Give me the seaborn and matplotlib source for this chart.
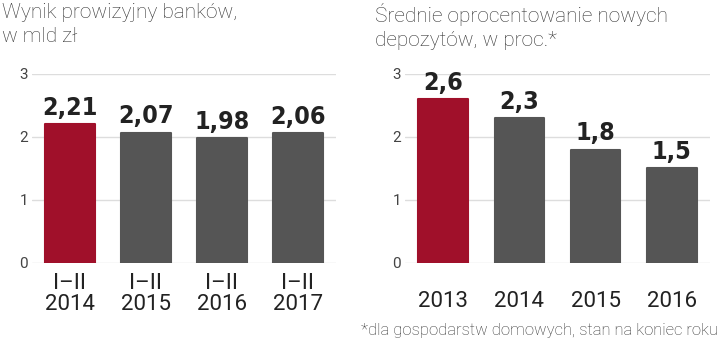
import matplotlib
matplotlib.use("Agg")
import matplotlib.pyplot as plt
import seaborn as sns
import pandas as pd

left_title = "Wynik prowizyjny banków,\nw mld zł"
left_cats = ["I–II\n2014", "I–II\n2015", "I–II\n2016", "I–II\n2017"]
left_vals = [2.21, 2.07, 1.98, 2.06]
left_labels = ["2,21", "2,07", "1,98", "2,06"]

right_title = "Średnie oprocentowanie nowych\ndepozytów, w proc.*"
right_cats = ["2013", "2014", "2015", "2016"]
right_vals = [2.6, 2.3, 1.8, 1.5]
right_labels = ["2,6", "2,3", "1,8", "1,5"]

footnote = "*dla gospodarstw domowych, stan na koniec roku"
yticks = [0, 1, 2, 3]

RED = "#A0102A"
GRAY = "#555555"

sns.set_theme(style="white")
plt.rcParams['font.family'] = ['Roboto', 'DejaVu Sans']

fig = plt.figure(figsize=(7.2, 3.42), dpi=100)

def panel(rect, cats, vals, labels, title, title_x, xpad):
    ax = fig.add_axes(rect)
    df = pd.DataFrame({"cat": cats, "val": vals,
                       "hl": ["a"] + ["b"] * (len(cats) - 1)})
    sns.barplot(data=df, x="cat", y="val", hue="hl", palette={"a": RED, "b": GRAY},
                width=0.65, legend=False, ax=ax, saturation=1, zorder=3)
    for p in ax.patches:
        p.set_edgecolor(p.get_facecolor())
        p.set_linewidth(1.5)
        p.set_joinstyle("round")
    ax.set_xlim(-0.5, 3.5)
    ax.set_ylim(0, 3)
    ax.set_yticks(yticks)
    ax.set_yticklabels([str(t) for t in yticks], fontsize=11, color="#444444")
    ax.grid(axis="y", color="#dddddd", linewidth=1, zorder=0)
    ax.set_axisbelow(True)
    for s in ax.spines.values():
        s.set_visible(False)
    ax.tick_params(axis="y", length=0, pad=3)
    ax.tick_params(axis="x", length=0, pad=xpad, labelsize=16, labelcolor="#222222")
    for lbl in ax.get_xticklabels():
        lbl.set_linespacing(1.0)
    ax.set_xlabel("")
    ax.set_ylabel("")
    for i, (v, t) in enumerate(zip(vals, labels)):
        ax.annotate(t, (i, v), xytext=(0, 3), textcoords="offset points",
                    ha="center", va="bottom", fontsize=18, fontweight="bold",
                    fontstretch="condensed",
                    color="#222222", family=["DejaVu Sans"],
                    clip_on=False)
    fig.text(title_x, 0.99, title, ha="left", va="top", fontsize=15,
             fontweight="light", color="#333333", linespacing=1.3)
    return ax

panel([0.0444, 0.231, 0.4222, 0.553], left_cats, left_vals, left_labels, left_title, 0.003, 7)
panel([0.5625, 0.231, 0.4236, 0.553], right_cats, right_vals, right_labels, right_title, 0.521, 20)

fig.text(0.997, 0.033, footnote, ha="right", va="center", fontsize=12,
         color="#333333", fontweight="light")

fig.savefig("out.png", dpi=100)
